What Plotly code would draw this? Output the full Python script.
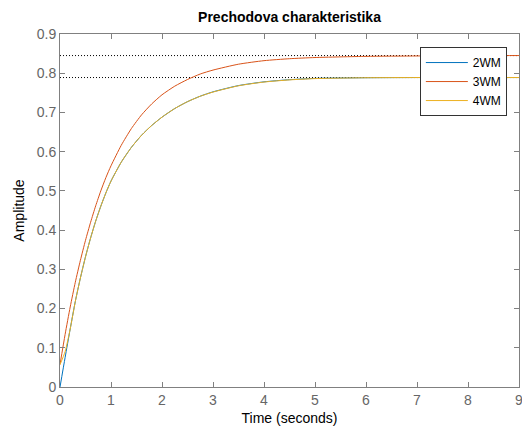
import plotly.graph_objects as go

t = [0, 0.1, 0.2, 0.3, 0.4, 0.5, 0.6, 0.7, 0.8, 0.9, 1.0, 1.2, 1.4, 1.6, 1.8, 2.0,
     2.25, 2.5, 2.75, 3.0, 3.5, 4.0, 4.5, 5.0, 6.0, 7.0, 8.0, 9.0]
y_2wm = [0, 0.075, 0.148, 0.218, 0.278, 0.332, 0.380, 0.423, 0.461, 0.495, 0.525, 0.573,
         0.611, 0.642, 0.667, 0.688, 0.710, 0.7275, 0.7415, 0.7525, 0.7685, 0.778, 0.7835,
         0.7868, 0.7885, 0.789, 0.789, 0.789]
y_3wm = [0.057, 0.134, 0.204, 0.267, 0.323, 0.374, 0.420, 0.462, 0.500, 0.534, 0.564, 0.616,
         0.659, 0.694, 0.722, 0.745, 0.767, 0.784, 0.798, 0.808, 0.823, 0.832, 0.837,
         0.840, 0.843, 0.844, 0.845, 0.845]
y_4wm = [0.057, 0.090, 0.148, 0.218, 0.278, 0.332, 0.380, 0.423, 0.461, 0.495, 0.525, 0.573,
         0.611, 0.642, 0.667, 0.688, 0.710, 0.7275, 0.7413, 0.7520, 0.7680, 0.7775, 0.7830,
         0.7863, 0.7885, 0.789, 0.789, 0.789]
final_values = [0.845, 0.789]
x_ticks = [0, 1, 2, 3, 4, 5, 6, 7, 8, 9]
y_ticks = [0, 0.1, 0.2, 0.3, 0.4, 0.5, 0.6, 0.7, 0.8, 0.9]

fig = go.Figure()
for fv in final_values:
    fig.add_trace(go.Scatter(x=[x_ticks[0], x_ticks[-1]], y=[fv, fv], mode="lines",
                             line=dict(color="black", width=1, dash="1px,2px"),
                             showlegend=False, hoverinfo="skip"))

series = [("2WM", y_2wm, "#0072BD"), ("3WM", y_3wm, "#D95319"), ("4WM", y_4wm, "#EDB120")]
for name, ys, col in series:
    fig.add_trace(go.Scatter(x=t, y=ys, mode="lines", name=name,
                             line=dict(color=col, width=1, shape="spline", smoothing=0.6)))

axis_common = dict(showline=True, linecolor="#808080", linewidth=1, mirror="ticks",
                   ticks="inside", ticklen=5, tickcolor="#808080", showgrid=False,
                   zeroline=False, ticklabeloverflow="allow", automargin=False,
                   tickfont=dict(family="Liberation Sans, Arial", size=14, color="#666666"))

fig.update_layout(
    width=522, height=432,
    margin=dict(l=60, r=3, t=34, b=45, autoexpand=False),
    paper_bgcolor="white", plot_bgcolor="white",
    title=dict(text="<b>Prechodova charakteristika</b>", xref="paper", x=0.5,
               xanchor="center", yref="container", y=1 - 17 / 432, yanchor="middle",
               font=dict(family="Liberation Sans, Arial", size=14, color="black")),
    xaxis=dict(range=[0, 9], tickvals=x_ticks,
               title=dict(text="Time (seconds)", standoff=6,
                          font=dict(family="Liberation Sans, Arial", size=14, color="black")),
               **axis_common),
    yaxis=dict(range=[0, 0.9], tickvals=y_ticks,
               ticktext=[("%g" % v) for v in y_ticks],
               title=dict(text="Amplitude", standoff=8,
                          font=dict(family="Liberation Sans, Arial", size=14, color="black")),
               **axis_common),
    legend=dict(x=0.784, y=0.963, xanchor="left", yanchor="top",
                bgcolor="white", bordercolor="#333333", borderwidth=1,
                font=dict(family="Liberation Sans, Arial", size=12, color="black"),
                tracegroupgap=0, itemwidth=42),
    showlegend=True,
)

fig.write_html("out.html")
